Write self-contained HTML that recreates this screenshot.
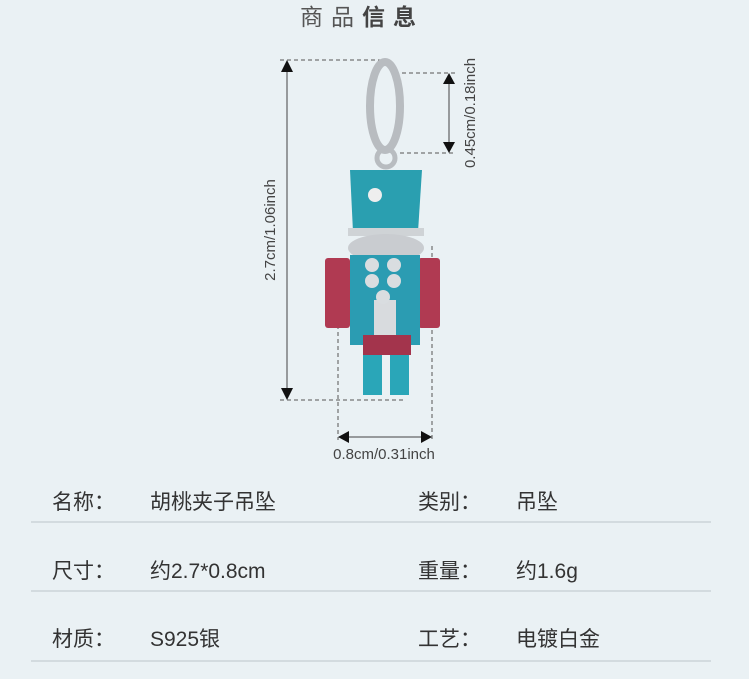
<!DOCTYPE html>
<html><head><meta charset="utf-8"><style>
body{margin:0;width:749px;height:679px;background:#eaf1f4;position:relative;overflow:hidden;font-family:"Liberation Sans","Noto Sans CJK SC",sans-serif;color:#333}
.t{position:absolute;font-size:21px;white-space:nowrap;line-height:1}
.ln{position:absolute;left:31px;width:680px;height:2px;background:#d3dbdf}
</style></head><body>
<div class="t" style="left:300px;top:6px;font-size:23px;letter-spacing:8px;color:#555">商品<b style="color:#444">信息</b></div>
<svg width="749" height="470" style="position:absolute;left:0;top:0" font-family="Liberation Sans, sans-serif">
<g stroke="#555" stroke-width="1" stroke-dasharray="4,3" fill="none">
<line x1="280" y1="60" x2="392" y2="60"/><line x1="280" y1="400" x2="405" y2="400"/>
<line x1="395" y1="73" x2="456" y2="73"/><line x1="400" y1="153" x2="456" y2="153"/>
<line x1="338" y1="262" x2="338" y2="440"/><line x1="432" y1="246" x2="432" y2="440"/>
</g>
<g stroke="#444" stroke-width="1"><line x1="287" y1="70" x2="287" y2="390"/><line x1="449" y1="82" x2="449" y2="144"/><line x1="346" y1="437" x2="424" y2="437"/></g>
<g fill="#111"><polygon points="281,72 293,72 287,60"/><polygon points="281,388 293,388 287,400"/>
<polygon points="443,84 455,84 449,73"/><polygon points="443,142 455,142 449,153"/>
<polygon points="349,431 349,443 338,437"/><polygon points="421,431 421,443 432,437"/></g>
<g fill="#444" font-size="15">
<text transform="translate(275,230) rotate(-90)" text-anchor="middle">2.7cm/1.06inch</text>
<text transform="translate(475,113) rotate(-90)" text-anchor="middle">0.45cm/0.18inch</text>
<text x="384" y="459" text-anchor="middle">0.8cm/0.31inch</text></g>
<ellipse cx="385" cy="106" rx="15" ry="44" fill="none" stroke="#b8bcc0" stroke-width="8"/>
<circle cx="386" cy="158" r="9" fill="none" stroke="#b8bcc0" stroke-width="5"/>
<polygon points="350,170 422,170 418,232 353,232" fill="#2a9fb0"/>
<rect x="348" y="228" width="76" height="8" fill="#cfd3d6"/>
<circle cx="375" cy="195" r="7" fill="#eee"/>
<ellipse cx="386" cy="248" rx="38" ry="14" fill="#c9ccd0"/>
<rect x="325" y="258" width="25" height="70" rx="3" fill="#b03a52"/>
<rect x="418" y="258" width="22" height="70" rx="3" fill="#b03a52"/>
<rect x="350" y="255" width="70" height="90" fill="#2b9cb2"/>
<rect x="374" y="300" width="22" height="45" fill="#d8dbde"/>
<g fill="#d9dde0"><circle cx="372" cy="265" r="7"/><circle cx="394" cy="265" r="7"/><circle cx="372" cy="281" r="7"/><circle cx="394" cy="281" r="7"/><circle cx="383" cy="297" r="7"/></g>
<rect x="363" y="335" width="48" height="20" fill="#a3344c"/>
<rect x="363" y="355" width="19" height="40" fill="#2aa6b8"/><rect x="390" y="355" width="19" height="40" fill="#2aa6b8"/>
</svg>
<div class="t" style="left:52px;top:492px">名称：</div><div class="t" style="left:150px;top:492px">胡桃夹子吊坠</div>
<div class="t" style="left:418px;top:492px">类别：</div><div class="t" style="left:516px;top:492px">吊坠</div>
<div class="ln" style="top:521px"></div>
<div class="t" style="left:52px;top:561px">尺寸：</div><div class="t" style="left:150px;top:561px">约2.7*0.8cm</div>
<div class="t" style="left:418px;top:561px">重量：</div><div class="t" style="left:516px;top:561px">约1.6g</div>
<div class="ln" style="top:590px"></div>
<div class="t" style="left:52px;top:629px">材质：</div><div class="t" style="left:150px;top:629px">S925银</div>
<div class="t" style="left:418px;top:629px">工艺：</div><div class="t" style="left:516px;top:629px">电镀白金</div>
<div class="ln" style="top:660px"></div>
</body></html>
